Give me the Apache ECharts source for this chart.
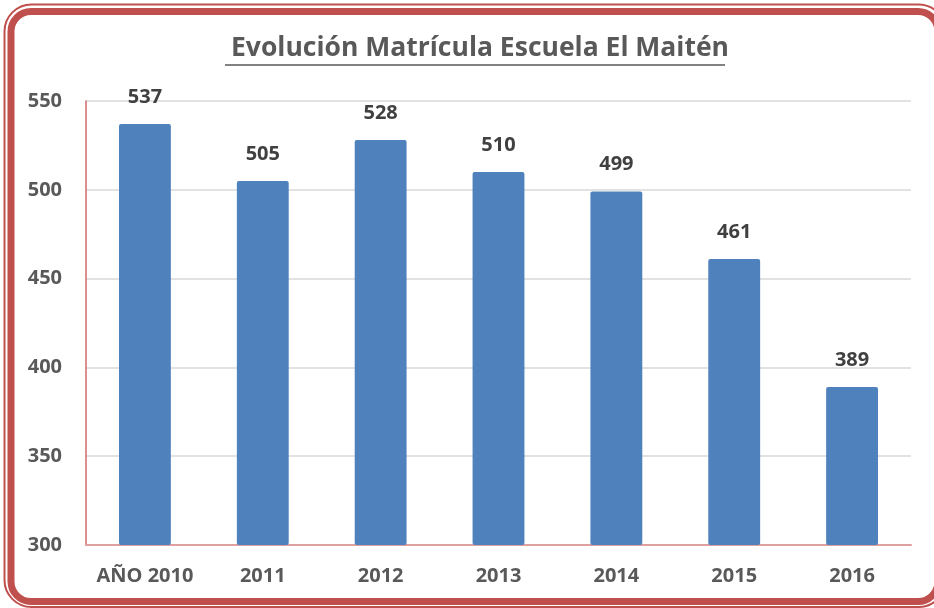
<!DOCTYPE html>
<html lang="es">
<head>
    <meta charset="UTF-8">
    <title>Evolución Matrícula Escuela El Maitén</title>
    <script src="https://cdn.jsdelivr.net/npm/echarts@6/dist/echarts.min.js"></script>
    <style>
        body, html { padding: 0; margin: 0; background: #fff; }
        #chart-panel { width: 934px; height: 608px; }
    </style>
</head>
<body>
    <div id="chart-panel"></div>
    <script>
        // datos
        var years = ['AÑO 2010', '2011', '2012', '2013', '2014', '2015', '2016'];
        var matricula = [537, 505, 528, 510, 499, 461, 389];
        var yTicks = [300, 350, 400, 450, 500, 550];

        var labelFont = '"Open Sans", "Liberation Sans", sans-serif';

        var option = {
            backgroundColor: '#fff',
            title: {
                text: 'Evolución Matrícula Escuela El Maitén',
                left: 475,
                top: 30,
                textAlign: 'center',
                textStyle: {
                    color: '#595959',
                    fontSize: 26.5,
                    fontWeight: 'bold',
                    fontFamily: labelFont
                }
            },
            grid: {
                left: 86,
                right: 23,
                top: 101,
                bottom: 63
            },
            xAxis: {
                type: 'category',
                data: years,
                axisLine: { lineStyle: { color: '#e0a0a0', width: 2 } },
                axisTick: { show: false },
                axisLabel: {
                    interval: 0,
                    color: '#595959',
                    fontSize: 20,
                    fontWeight: 'bold',
                    fontFamily: labelFont,
                    margin: 21
                }
            },
            yAxis: {
                type: 'value',
                min: yTicks[0],
                max: yTicks[yTicks.length - 1],
                interval: 50,
                axisLine: { show: true, lineStyle: { color: '#d06a6a', width: 1.5 } },
                axisTick: { show: false },
                splitLine: { lineStyle: { color: '#d9d9d9', width: 1.5 } },
                axisLabel: {
                    color: '#595959',
                    fontSize: 20,
                    fontWeight: 'bold',
                    fontFamily: labelFont,
                    margin: 24
                }
            },
            series: [{
                type: 'bar',
                data: matricula,
                barWidth: '44%',
                itemStyle: { color: '#4f81bd', borderRadius: 2 },
                label: {
                    show: true,
                    position: 'top',
                    distance: 17,
                    color: '#404040',
                    fontSize: 20,
                    fontWeight: 'bold',
                    fontFamily: labelFont
                }
            }],
            graphic: [
                // subrayado del título
                {
                    type: 'line',
                    shape: { x1: 225, y1: 65, x2: 725, y2: 65 },
                    style: { stroke: '#595959', lineWidth: 1.5 }
                },
                // marco doble rojo (se sale por la derecha)
                {
                    type: 'rect',
                    shape: { x: 4.5, y: 4.5, width: 941, height: 602.5, r: 27 },
                    style: { fill: 'none', stroke: '#c0504d', lineWidth: 2 }
                },
                {
                    type: 'rect',
                    shape: { x: 11, y: 11.5, width: 927, height: 590, r: 20 },
                    style: { fill: 'none', stroke: '#c0504d', lineWidth: 7 }
                }
            ]
        };

        var chartVM = echarts.init(document.getElementById('chart-panel'));
        chartVM.setOption(option);
    </script>
</body>
</html>
